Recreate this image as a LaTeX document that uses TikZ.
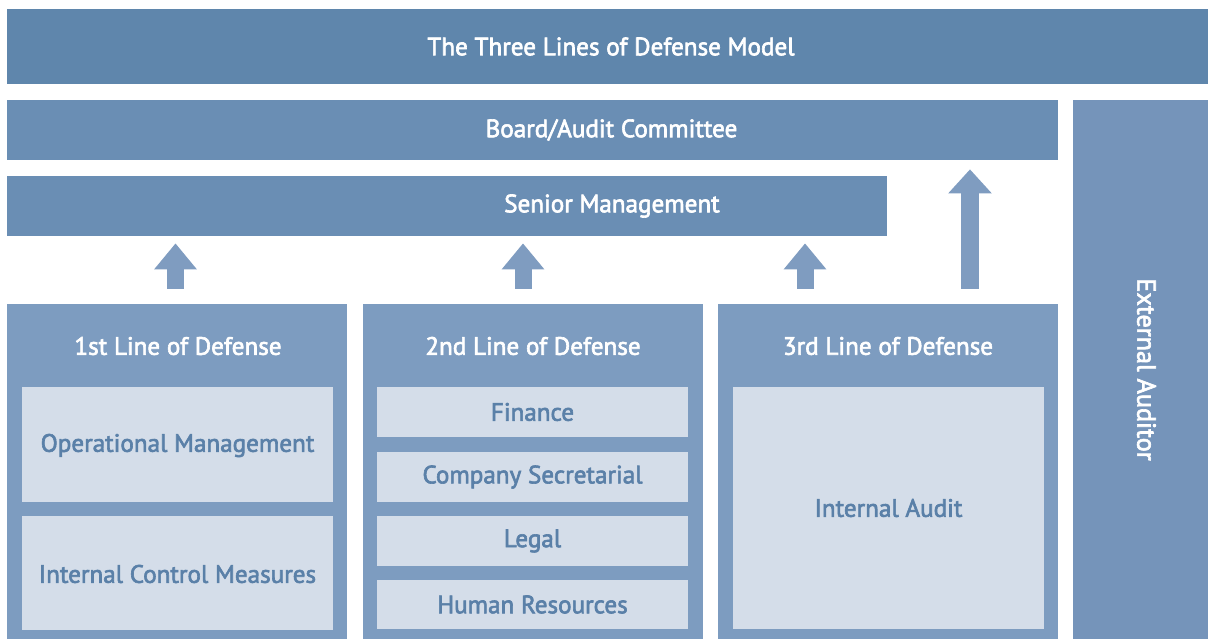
\documentclass[tikz,border=0pt]{standalone}
\usepackage{fontspec}
\setmainfont{PT Sans}[FakeBold=2.5]
\usetikzlibrary{fit,arrows.meta,calc}
\definecolor{titlebg}{HTML}{5F86AC}
\definecolor{barbg}{HTML}{6A8EB4}
\definecolor{colbg}{HTML}{7D9CC0}
\definecolor{extbg}{HTML}{7594BA}
\definecolor{arrowc}{HTML}{7F9CC0}
\definecolor{innerbg}{HTML}{D4DDE9}
\definecolor{innertxt}{HTML}{5A80A8}
\begin{document}
\begin{tikzpicture}[x=0.02cm,y=-0.02cm,
  bar/.style={inner sep=0pt, fill=barbg},
  wtxt/.style={inner sep=0pt, text=white, font=\fontsize{14.3}{17}\selectfont},
  colbox/.style={inner sep=0pt, fill=colbg},
  inner/.style={inner sep=0pt, fill=innerbg},
  itxt/.style={inner sep=0pt, text=innertxt, font=\fontsize{14.3}{17}\selectfont},
  fat/.style={draw=arrowc, line width=0.34cm, -{Triangle[width=0.82cm,length=0.52cm]}},
  bigfat/.style={draw=arrowc, line width=0.35cm, -{Triangle[width=0.84cm,length=0.48cm]}}]
\useasboundingbox (0,0) rectangle (1209,639);
% top bars
\node[bar, fill=titlebg, fit={(7,9) (1208,84)},
  label={[wtxt, xshift=0.07cm]center:The Three Lines of Defense Model}] (title) {};
\node[bar, fit={(7,100) (1058,160)},
  label={[wtxt, xshift=1.58cm]center:Board/Audit Committee}] (board) {};
\node[bar, fit={(7,176) (887,236)},
  label={[wtxt, xshift=3.3cm]center:Senior Management}] (senior) {};
\node[bar, fill=extbg, fit={(1073,100) (1208,639)},
  label={[wtxt, xshift=0.12cm, rotate=-90, font=\fontsize{14.9}{17}\selectfont]center:External Auditor}] (ext) {};
% columns
\node[colbox, fit={(7,304) (347,639)}] (col1) {};
\node[colbox, fit={(363,304) (703,639)}] (col2) {};
\node[colbox, fit={(718,304) (1058,639)}] (col3) {};
\node[wtxt] (h1) at (178,346) {1st Line of Defense};
\node[wtxt] (h2) at (533,346) {2nd Line of Defense};
\node[wtxt] (h3) at (888,346) {3rd Line of Defense};
% inner boxes
\node[inner, fit={(22,387) (333,502)}, label={[itxt, yshift=-0.02cm]center:Operational Management}] (opm) {};
\node[inner, fit={(22,516) (333,630)}, label={[itxt, yshift=-0.02cm]center:Internal Control Measures}] (icm) {};
\node[inner, fit={(377,387) (688,437)}, label={[itxt]center:Finance}] (fin) {};
\node[inner, fit={(377,452) (688,502)}, label={[itxt]center:Company Secretarial}] (sec) {};
\node[inner, fit={(377,516) (688,566)}, label={[itxt]center:Legal}] (leg) {};
\node[inner, fit={(377,580) (688,629)}, label={[itxt]center:Human Resources}] (hr) {};
\node[inner, fit={(733,387) (1044,629)}, label={[itxt]center:Internal Audit}] (ia) {};
% arrows
\draw[fat, shorten <=0.3cm, shorten >=0.14cm] ([xshift=-0.03cm]col1.north) -- ([xshift=-0.03cm]col1.north |- senior.south);
\draw[fat, shorten <=0.3cm, shorten >=0.14cm] ([xshift=-0.2cm]col2.north) -- ([xshift=-0.2cm]col2.north |- senior.south);
\draw[fat, shorten <=0.3cm, shorten >=0.14cm] ([xshift=-1.66cm]col3.north) -- ([xshift=-1.66cm]col3.north |- senior.south);
\draw[bigfat, shorten <=0.3cm, shorten >=0.18cm] ([xshift=1.64cm]col3.north) -- ([xshift=1.64cm]col3.north |- board.south);
\end{tikzpicture}
\end{document}
